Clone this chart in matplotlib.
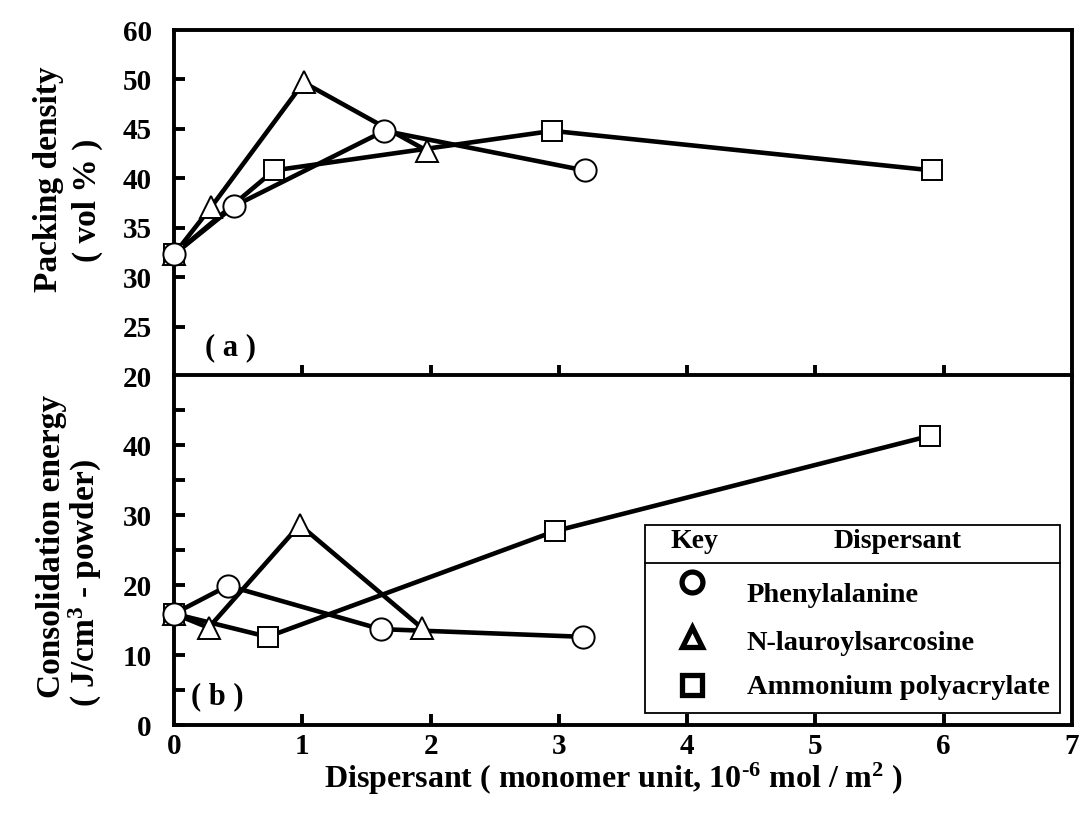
import matplotlib
matplotlib.use("Agg")
import matplotlib.pyplot as plt
from matplotlib.lines import Line2D
from matplotlib.patches import Rectangle

plt.rcParams['font.family'] = ['Liberation Serif', 'DejaVu Serif']
plt.rcParams['font.weight'] = 'bold'
plt.rcParams['mathtext.fontset'] = 'custom'
plt.rcParams['mathtext.rm'] = 'Liberation Serif:bold'
plt.rcParams['mathtext.it'] = 'Liberation Serif:bold'
plt.rcParams['mathtext.bf'] = 'Liberation Serif:bold'
plt.rcParams['mathtext.default'] = 'rm'

# (a) packing density, vol %
phe_x_a = [0.0, 0.47, 1.64, 3.20]
phe_y_a = [32.3, 37.2, 44.8, 40.8]
nls_x_a = [0.0, 0.29, 1.01, 1.97]
nls_y_a = [32.3, 37.1, 49.7, 42.8]
apa_x_a = [0.0, 0.78, 2.95, 5.91]
apa_y_a = [32.3, 40.8, 44.8, 40.8]

# (b) consolidation energy, J/cm3 - powder
phe_x_b = [0.0, 0.42, 1.61, 3.19]
phe_y_b = [15.9, 19.9, 13.7, 12.6]
nls_x_b = [0.0, 0.27, 0.98, 1.93]
nls_y_b = [15.9, 13.9, 28.6, 13.9]
apa_x_b = [0.0, 0.73, 2.97, 5.89]
apa_y_b = [15.9, 12.6, 27.7, 41.3]

names = ["Phenylalanine", "N-lauroylsarcosine", "Ammonium polyacrylate"]
markers = ["o", "^", "s"]

ticks_a = [20, 25, 30, 35, 40, 45, 50, 55]
ticklabels_a = ["20", "25", "30", "35", "40", "45", "50", "60"]
ticks_b = [0, 5, 10, 15, 20, 25, 30, 35, 40, 45]
ticklabels_b = ["0", "", "10", "", "20", "", "30", "", "40", ""]

fig = plt.figure(figsize=(10.83, 8.16), dpi=100)
ax_a = fig.add_axes([0.1607, 0.5392, 0.8291, 0.4240])
ax_b = fig.add_axes([0.1607, 0.1115, 0.8291, 0.4289])

panels = [
    (ax_a, [(phe_x_a, phe_y_a), (nls_x_a, nls_y_a), (apa_x_a, apa_y_a)]),
    (ax_b, [(phe_x_b, phe_y_b), (nls_x_b, nls_y_b), (apa_x_b, apa_y_b)]),
]
for ax, sets in panels:
    # lines first, then markers; circles last so the shared origin shows a circle
    for xs, ys in sets:
        ax.plot(xs, ys, color="black", lw=3.3, zorder=2, clip_on=False)
    for (xs, ys), m in reversed(list(zip(sets, markers))):
        ax.plot(xs, ys, ls="none", marker=m, ms=16 if m != "s" else 15,
                mfc="white", mec="black", mew=1.4, zorder=4, clip_on=False)
    ax.set_xlim(0, 7)
    ax.set_xticks(range(0, 8))
    for s in ax.spines.values():
        s.set_linewidth(2.8)
    ax.tick_params(direction="in", length=8, width=2.8, labelsize=21)
    ax.tick_params(axis="y", pad=16)
    ax.tick_params(axis="x", pad=6)

ax_a.set_ylim(20, 55)
ax_a.set_yticks(ticks_a)
ax_a.set_yticklabels(ticklabels_a)
ax_a.tick_params(axis="x", labelbottom=False)
ax_a.text(0.063, 0.081, "( a )", transform=ax_a.transAxes, fontsize=22,
          fontweight="bold", ha="center", va="center")

ax_b.set_ylim(0, 50)
ax_b.set_yticks(ticks_b)
ax_b.set_yticklabels(ticklabels_b)
ax_b.set_xlabel("Dispersant ( monomer unit, 10$^{\\text{-6}}$ mol / m$^2$ )", fontsize=23,
                fontweight="bold")
ax_b.xaxis.set_label_coords(0.49, -0.103)
ax_b.text(0.048, 0.08, "( b )", transform=ax_b.transAxes, fontsize=22,
          fontweight="bold", ha="center", va="center")

# y titles, two lines each, placed as in the original
ylab = dict(rotation=90, fontsize=24, fontweight="bold", ha="center", va="center")
fig.text(0.0452, 0.7806, "Packing density", **ylab)
fig.text(0.0803, 0.7549, "( vol % )", **ylab)
fig.text(0.048, 0.3309, "Consolidation energy", **ylab)
fig.text(0.0785, 0.2855, "( J/cm$^3$ - powder)", **ylab)

# the original shows no tick marks at these spots
ax_a.yaxis.get_major_ticks()[-1].tick1line.set_visible(False)
for ax in (ax_a, ax_b):
    xt = ax.xaxis.get_major_ticks()
    xt[0].tick1line.set_visible(False)
    xt[-1].tick1line.set_visible(False)

# key box
box = Rectangle((0.5245, 0.0343), 0.4621, 0.5371, transform=ax_b.transAxes,
                facecolor="white", edgecolor="black", lw=1.3, zorder=5)
ax_b.add_patch(box)
ax_b.add_line(Line2D([0.5245, 0.9866], [0.4629, 0.4629], transform=ax_b.transAxes,
                     color="black", lw=1.3, zorder=6))
ax_b.text(0.580, 0.523, "Key", transform=ax_b.transAxes, fontsize=20,
          fontweight="bold", ha="center", va="center", zorder=6)
ax_b.text(0.806, 0.523, "Dispersant", transform=ax_b.transAxes, fontsize=20,
          fontweight="bold", ha="center", va="center", zorder=6)
key_y = [0.409, 0.251, 0.114]
name_y = [0.371, 0.234, 0.106]
for m, name, ky, ny in zip(markers, names, key_y, name_y):
    ax_b.add_line(Line2D([0.577], [ky], transform=ax_b.transAxes, marker=m,
                         ms=15 if m != "s" else 14, mfc="white", mec="black",
                         mew=3.8, ls="none", zorder=6))
    ax_b.text(0.638, ny, name, transform=ax_b.transAxes, fontsize=20.5,
              fontweight="bold", ha="left", va="center", zorder=6)

fig.savefig("out.png", dpi=100)
